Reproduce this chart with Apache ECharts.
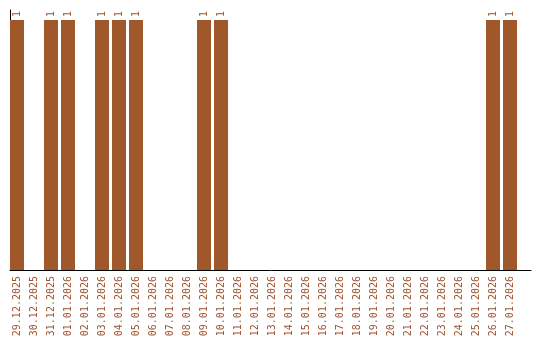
<!DOCTYPE html>
<html>
<head>
<meta charset="utf-8">
<script src="https://cdn.jsdelivr.net/npm/echarts@6/dist/echarts.min.js"></script>
<style>
html,body{margin:0;padding:0;background:#fff;}
#chart{width:540px;height:340px;}
</style>
</head>
<body>
<div id="chart"></div>
<script>
const categories = [
  '29.12.2025','30.12.2025','31.12.2025','01.01.2026','02.01.2026','03.01.2026',
  '04.01.2026','05.01.2026','06.01.2026','07.01.2026','08.01.2026','09.01.2026',
  '10.01.2026','11.01.2026','12.01.2026','13.01.2026','14.01.2026','15.01.2026',
  '16.01.2026','17.01.2026','18.01.2026','19.01.2026','20.01.2026','21.01.2026',
  '22.01.2026','23.01.2026','24.01.2026','25.01.2026','26.01.2026','27.01.2026'
];
const counts = [1,0,1,1,0,1,1,1,0,0,0,1,1,0,0,0,0,0,0,0,0,0,0,0,0,0,0,0,1,1];

const barColor = '#a0582a';
const textColor = '#a0522d';
const mono = 'DejaVu Sans Mono';

const chart = echarts.init(document.getElementById('chart'), null, {renderer: 'canvas'});
chart.setOption({
  animation: false,
  backgroundColor: '#fff',
  grid: [
    {left: 8.5, top: 10, width: 510, height: 260},
    {left: 10, top: 10, width: 521, height: 260}
  ],
  xAxis: [
    {
      type: 'category', gridIndex: 0, data: categories,
      axisLine: {show: false}, axisTick: {show: false},
      axisLabel: {interval: 0, rotate: 90, margin: 6, color: textColor, fontFamily: mono, fontSize: 10}
    },
    {
      type: 'value', gridIndex: 1, min: 0, max: 1,
      axisLine: {show: true, lineStyle: {color: '#000', width: 1}},
      axisTick: {show: false}, axisLabel: {show: false}, splitLine: {show: false}
    }
  ],
  yAxis: [
    {
      type: 'value', gridIndex: 0, min: 0, max: 1.04,
      axisLine: {show: false}, axisTick: {show: false}, axisLabel: {show: false}, splitLine: {show: false}
    },
    {
      type: 'value', gridIndex: 1, min: 0, max: 1,
      axisLine: {show: true, lineStyle: {color: '#000', width: 1}},
      axisTick: {show: false}, axisLabel: {show: false}, splitLine: {show: false}
    }
  ],
  series: [
    {
      type: 'bar', xAxisIndex: 0, yAxisIndex: 0,
      data: counts.map(v => v === 0 ? '-' : v),
      barWidth: 14,
      itemStyle: {color: barColor},
      label: {
        show: true, position: 'top', rotate: 90, align: 'left', verticalAlign: 'middle',
        distance: 3, color: textColor, fontFamily: mono, fontSize: 10
      }
    }
  ]
});
</script>
</body>
</html>
